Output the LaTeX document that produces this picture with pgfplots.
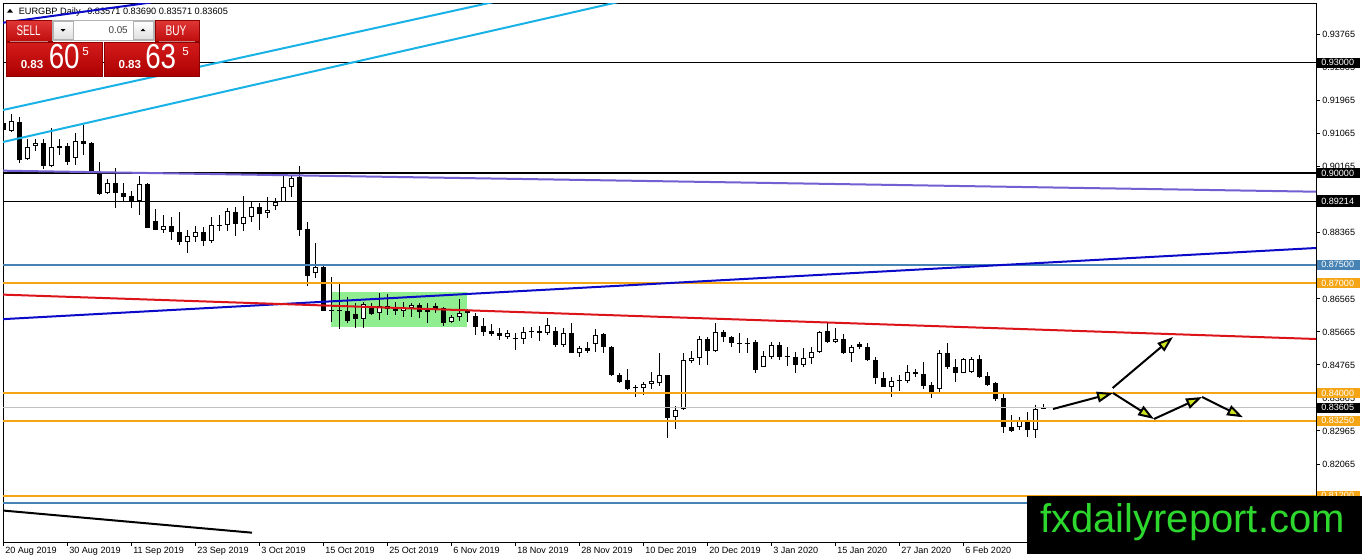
\documentclass[border=0pt]{standalone}
\usepackage{fontspec}
\setmainfont{Liberation Sans}
\usepackage{pgfplots}
\pgfplotsset{compat=1.18}
\usepackage{pgfplotstable}
\usetikzlibrary{arrows.meta}

\definecolor{cyanl}{RGB}{25,178,230}
\definecolor{slate}{RGB}{112,96,210}
\definecolor{mblue}{RGB}{10,10,200}
\definecolor{redl}{RGB}{220,20,25}
\definecolor{orl}{RGB}{245,165,20}
\definecolor{steel}{RGB}{70,130,180}
\definecolor{lgreen}{RGB}{144,238,144}
\definecolor{arrowfill}{RGB}{205,228,30}
\definecolor{wmgreen}{RGB}{45,215,45}
\definecolor{btntop}{RGB}{225,55,55}
\definecolor{btnbot}{RGB}{190,12,12}
\definecolor{boxtop}{RGB}{212,28,28}
\definecolor{boxbot}{RGB}{172,0,0}
\definecolor{btnedge}{RGB}{140,0,0}
\definecolor{curgray}{RGB}{192,192,192}

\newcommand\axfont{\fontsize{6.8}{8}\selectfont}

\pgfplotstableread{
i o h l c
0 0.91359 0.91631 0.91004 0.91168
1 0.91141 0.91604 0.91113 0.91414
2 0.91386 0.91522 0.90269 0.90350
3 0.90378 0.90923 0.90350 0.90705
4 0.90732 0.90923 0.90596 0.90814
5 0.90814 0.90923 0.90105 0.90187
6 0.90187 0.91223 0.90160 0.90705
7 0.90732 0.90923 0.90487 0.90677
8 0.90732 0.90814 0.90214 0.90296
9 0.90405 0.91086 0.90214 0.90868
10 0.90868 0.91304 0.90487 0.90787
11 0.90814 0.90841 0.90051 0.90051
12 0.89996 0.90296 0.89397 0.89424
13 0.89451 0.89833 0.89424 0.89724
14 0.89724 0.90132 0.89042 0.89451
15 0.89451 0.89724 0.89206 0.89342
16 0.89369 0.89506 0.89042 0.89233
17 0.89233 0.89914 0.88852 0.89696
18 0.89696 0.89724 0.88497 0.88497
19 0.88688 0.89015 0.88443 0.88443
20 0.88443 0.88852 0.88361 0.88552
21 0.88552 0.88797 0.88170 0.88388
22 0.88388 0.88933 0.88034 0.88115
23 0.88115 0.88443 0.87816 0.88279
24 0.88252 0.88552 0.88115 0.88388
25 0.88388 0.88525 0.88006 0.88143
26 0.88143 0.88797 0.88088 0.88579
27 0.88552 0.88852 0.88415 0.88579
28 0.88579 0.89042 0.88415 0.88960
29 0.88933 0.89069 0.88279 0.88606
30 0.88606 0.89369 0.88415 0.88797
31 0.88797 0.89206 0.88661 0.89069
32 0.89069 0.89178 0.88443 0.88879
33 0.88906 0.89342 0.88770 0.88988
34 0.89096 0.89315 0.88988 0.89206
35 0.89206 0.89942 0.89206 0.89615
36 0.89615 0.89942 0.89342 0.89860
37 0.89887 0.90187 0.88279 0.88443
38 0.88470 0.88661 0.86916 0.87189
39 0.87270 0.88088 0.87134 0.87434
40 0.87434 0.87461 0.86235 0.86235
41 0.86262 0.87161 0.85935 0.86235
42 0.86262 0.86971 0.85744 0.86235
43 0.86235 0.86616 0.85908 0.85962
44 0.86153 0.86453 0.85771 0.86017
45 0.86017 0.86480 0.85771 0.86426
46 0.86371 0.86453 0.86126 0.86153
47 0.86180 0.86725 0.85989 0.86371
48 0.86371 0.86698 0.86126 0.86289
49 0.86344 0.86480 0.86126 0.86235
50 0.86235 0.86480 0.86071 0.86344
51 0.86317 0.86453 0.86071 0.86398
52 0.86398 0.86453 0.86044 0.86208
53 0.86317 0.86453 0.85908 0.86208
54 0.86371 0.86453 0.86180 0.86289
55 0.86317 0.86344 0.85826 0.85908
56 0.85935 0.86126 0.85908 0.86071
57 0.86071 0.86562 0.85962 0.86180
58 0.86180 0.86289 0.85935 0.86235
59 0.86098 0.86180 0.85581 0.85799
60 0.85826 0.86044 0.85553 0.85662
61 0.85690 0.85880 0.85553 0.85608
62 0.85635 0.85771 0.85444 0.85553
63 0.85526 0.85717 0.85472 0.85635
64 0.85499 0.85635 0.85172 0.85472
65 0.85472 0.85799 0.85335 0.85662
66 0.85662 0.85799 0.85499 0.85690
67 0.85690 0.85826 0.85417 0.85635
68 0.85635 0.86044 0.85581 0.85853
69 0.85690 0.85799 0.85254 0.85308
70 0.85308 0.85771 0.85254 0.85635
71 0.85635 0.85908 0.85090 0.85090
72 0.85090 0.85281 0.84981 0.85226
73 0.85226 0.85390 0.85090 0.85145
74 0.85335 0.85744 0.85117 0.85581
75 0.85608 0.85635 0.85090 0.85254
76 0.85254 0.85281 0.84463 0.84490
77 0.84490 0.84545 0.84272 0.84299
78 0.84354 0.84654 0.84081 0.84109
79 0.84163 0.84218 0.83891 0.84136
80 0.84136 0.84299 0.83945 0.84245
81 0.84245 0.84572 0.84109 0.84327
82 0.84272 0.85090 0.84190 0.84490
83 0.84490 0.84490 0.82773 0.83318
84 0.83345 0.83646 0.83018 0.83536
85 0.83564 0.85090 0.83536 0.84899
86 0.84872 0.85145 0.84817 0.84954
87 0.84954 0.85553 0.84763 0.85472
88 0.85472 0.85526 0.84763 0.85145
89 0.85145 0.85908 0.85117 0.85662
90 0.85662 0.85717 0.85390 0.85526
91 0.85526 0.85553 0.85254 0.85363
92 0.85363 0.85635 0.85090 0.85335
93 0.85363 0.85499 0.85090 0.85335
94 0.85390 0.85444 0.84545 0.84627
95 0.84708 0.85145 0.84708 0.85008
96 0.84981 0.85390 0.84926 0.85308
97 0.85308 0.85390 0.84899 0.84981
98 0.85008 0.85254 0.84736 0.84981
99 0.84981 0.85117 0.84545 0.84763
100 0.84763 0.85226 0.84708 0.84954
101 0.84954 0.85254 0.84790 0.85117
102 0.85117 0.85690 0.85090 0.85662
103 0.85690 0.85908 0.85363 0.85390
104 0.85390 0.85771 0.85363 0.85472
105 0.85472 0.85608 0.85063 0.85090
106 0.85090 0.85308 0.84845 0.85254
107 0.85335 0.85390 0.85199 0.85254
108 0.85254 0.85363 0.84872 0.84899
109 0.84899 0.84981 0.84245 0.84409
110 0.84409 0.84572 0.84163 0.84163
111 0.84163 0.84436 0.83891 0.84327
112 0.84354 0.84490 0.84054 0.84327
113 0.84327 0.84763 0.84272 0.84572
114 0.84572 0.84654 0.84436 0.84518
115 0.84518 0.84845 0.84109 0.84190
116 0.84218 0.84299 0.83864 0.84027
117 0.84109 0.85172 0.84027 0.85090
118 0.85090 0.85363 0.84654 0.84708
119 0.84708 0.84926 0.84299 0.84545
120 0.84545 0.84954 0.84545 0.84926
121 0.84572 0.84981 0.84545 0.84926
122 0.84926 0.85035 0.84409 0.84436
123 0.84463 0.84572 0.84190 0.84218
124 0.84272 0.84299 0.83782 0.83836
125 0.83864 0.83973 0.82909 0.83073
126 0.83073 0.83400 0.82937 0.82964
127 0.83073 0.83345 0.82991 0.83237
128 0.83237 0.83482 0.82800 0.82991
129 0.82991 0.83673 0.82773 0.83564
130 0.83571 0.83690 0.83571 0.83605
}\candles

\begin{document}
\begin{tikzpicture}[x=0.75pt,y=-0.75pt]
\useasboundingbox (0,0) rectangle (1362,554);
\fill[white] (0,0) rectangle (1362,554);

% title
\fill[black] (7,12.6) -- (13,12.6) -- (10,8.8) -- cycle;
\node[anchor=base west, inner sep=0pt, font=\fontsize{6.9}{8}\selectfont] at (18.5,14) {EURGBP Daily};
\node[anchor=base west, inner sep=0pt, font=\fontsize{6.9}{8}\selectfont] at (87,14) {0.83571 0.83690 0.83571 0.83605};

\begin{axis}[
  at={(2.25pt,-406.5pt)}, anchor=south west,
  scale only axis, width=984.75pt, height=404.25pt,
  xmin=0, xmax=164.125, ymin=0.79939, ymax=0.94629,
  axis line style={black, line width=0.75pt},
  tick align=outside, major tick length=3pt,
  tick style={black, line width=0.75pt},
  xtick pos=bottom, ytick pos=right,
  yticklabel pos=right,
  xtick={0,8,...,120},
  xticklabels={20 Aug 2019,30 Aug 2019,11 Sep 2019,23 Sep 2019,3 Oct 2019,15 Oct 2019,25 Oct 2019,6 Nov 2019,18 Nov 2019,28 Nov 2019,10 Dec 2019,20 Dec 2019,3 Jan 2020,15 Jan 2020,27 Jan 2020,6 Feb 2020},
  xticklabel style={font=\axfont, anchor=north west, inner sep=0pt, xshift=1.5pt, yshift=-0.6pt},
  ytick={0.81165,0.82065,0.82965,0.83865,0.84765,0.85665,0.86565,0.87465,0.88365,0.89265,0.90165,0.91065,0.91965,0.92865,0.93765},
  scaled y ticks=false,
  yticklabel style={font=\axfont, anchor=west, inner sep=0pt, xshift=1.5pt,
    /pgf/number format/.cd, fixed, fixed zerofill, precision=5, assume math mode=true},
  no markers,
]
% green zone
\addplot[fill=lgreen, draw=none] coordinates {(41,0.85807) (57.96,0.85807) (57.96,0.86761) (41,0.86761)} -- cycle;

% wicks
\addplot[draw=none, mark=none,
  error bars/.cd, y dir=plus, y explicit, error mark=none,
  error bar style={draw=black, line width=0.75pt}]
  table[x=i, y=l, y error plus expr={\thisrow{h}-\thisrow{l}}, y error minus expr={0}] {\candles};
% bodies (black outline / black fill)
\addplot[draw=none, mark=none,
  error bars/.cd, y dir=plus, y explicit, error mark=none,
  error bar style={draw=black, line width=3.75pt}]
  table[x=i, y expr={min(\thisrow{o},\thisrow{c})}, y error plus expr={abs(\thisrow{c}-\thisrow{o})}, y error minus expr={0}] {\candles};
% bull interiors
\addplot[draw=none, mark=none,
  restrict expr to domain={\thisrow{c}-\thisrow{o}}{0.0006:1},
  error bars/.cd, y dir=plus, y explicit, error mark=none,
  error bar style={draw=white, line width=2.25pt, shorten <=0.75pt, shorten >=0.75pt}]
  table[x=i, y=o, y error plus expr={\thisrow{c}-\thisrow{o}}, y error minus expr={0}] {\candles};

% horizontal levels
\addplot[black, line width=0.75pt] coordinates {(0,0.93) (164.125,0.93)};
\addplot[black, line width=1.5pt] coordinates {(0,0.90) (164.125,0.90)};
\addplot[black, line width=0.75pt] coordinates {(0,0.89214) (164.125,0.89214)};
\addplot[steel, line width=1.5pt] coordinates {(0,0.875) (164.125,0.875)};
\addplot[orl, line width=1.5pt] coordinates {(0,0.87) (164.125,0.87)};
\addplot[orl, line width=1.5pt] coordinates {(0,0.84) (164.125,0.84)};
\addplot[curgray, line width=0.75pt] coordinates {(0,0.83605) (164.125,0.83605)};
\addplot[orl, line width=1.5pt] coordinates {(0,0.8325) (164.125,0.8325)};
\addplot[orl, line width=1.5pt] coordinates {(0,0.812) (164.125,0.812)};
\addplot[steel, line width=1.5pt] coordinates {(0,0.8101) (164.125,0.8101)};

% trend lines
\addplot[cyanl, line width=1.5pt] coordinates {(0,0.91713) (70,0.95073)};
\addplot[cyanl, line width=1.5pt] coordinates {(0,0.90841) (80,0.94809)};
\addplot[slate, line width=1.5pt] coordinates {(0,0.90059) (164.125,0.89486)};
\addplot[mblue, line width=1.5pt] coordinates {(0,0.86013) (164.125,0.87952)};
\addplot[redl, line width=1.5pt] coordinates {(0,0.86681) (164.125,0.85472)};
\addplot[black, line width=1.5pt] coordinates {(0,0.80797) (31.125,0.80193)};
\addplot[mblue, line width=1.5pt] coordinates {(0,0.94092) (18.5,0.94643)};

% projected path arrows
\addplot[black, line width=1.5pt, -{Triangle[length=12pt, width=8pt, fill=arrowfill]}] coordinates {(131.25,0.83564) (138.75,0.83999)};
\addplot[black, line width=1.5pt, -{Triangle[length=12pt, width=8pt, fill=arrowfill]}] coordinates {(138.75,0.83999) (143.875,0.83292)};
\addplot[black, line width=1.5pt, -{Triangle[length=12pt, width=8pt, fill=arrowfill]}] coordinates {(143.875,0.83292) (149.875,0.83891)};
\addplot[black, line width=1.5pt, -{Triangle[length=12pt, width=8pt, fill=arrowfill]}] coordinates {(149.875,0.83891) (155,0.83338)};
\addplot[black, line width=1.5pt, -{Triangle[length=12pt, width=8pt, fill=arrowfill]}] coordinates {(138.7,0.84136) (146.25,0.85526)};
\end{axis}

% price boxes on the right scale
\tikzset{pbox/.style={anchor=west, inner sep=0pt, font=\axfont, text=white}}
\fill[black] (1317,57.6) rectangle (1360,67.6); \node[pbox] at (1321,62.6) {0.93000};
\fill[black] (1317,167.9) rectangle (1360,177.9); \node[pbox] at (1321,172.9) {0.90000};
\fill[black] (1317,195.2) rectangle (1360,206.7); \node[pbox] at (1321,201.7) {0.89214};
\fill[steel] (1317,259.6) rectangle (1360,269.6); \node[pbox] at (1321,264.6) {0.87500};
\fill[orl] (1317,277.9) rectangle (1360,287.9); \node[pbox] at (1321,282.9) {0.87000};
\fill[orl] (1317,388) rectangle (1360,398); \node[pbox] at (1321,393) {0.84000};
\fill[black] (1317,402.5) rectangle (1360,412.5); \node[pbox] at (1321,407.5) {0.83605};
\fill[orl] (1317,415.5) rectangle (1360,425.5); \node[pbox] at (1321,420.5) {0.83250};
\fill[orl] (1317,490.7) rectangle (1360,500.7); \node[pbox] at (1321,495.7) {0.81200};

% SELL / BUY panel
\shade[top color=btntop, bottom color=btnbot, draw=btnedge] (6,20) rectangle (52,41.5);
\shade[top color=btntop, bottom color=btnbot, draw=btnedge] (155,20) rectangle (199,41.5);
\draw[white, opacity=0.5] (10,41.5) -- (48,41.5);
\draw[white, opacity=0.5] (159,41.5) -- (195,41.5);
\node[text=white, inner sep=0pt, font=\fontsize{10.5}{11}\selectfont] at (28.5,30.5) {\scalebox{0.7}[1]{SELL}};
\node[text=white, inner sep=0pt, font=\fontsize{10.5}{11}\selectfont] at (176,30.5) {\scalebox{0.72}[1]{BUY}};
\draw[fill=white, draw=gray!60] (52.5,20) rectangle (154,40);
\shade[top color=white, bottom color=gray!25, draw=gray!60] (53.5,21) rectangle (73,39);
\shade[top color=white, bottom color=gray!25, draw=gray!60] (133,21) rectangle (153,39);
\fill[black] (60.5,29) -- (65.5,29) -- (63,31.5) -- cycle;
\fill[black] (140.5,31) -- (145.5,31) -- (143,28.5) -- cycle;
\node[anchor=east, inner sep=0pt, text=black!75, font=\fontsize{7.4}{8}\selectfont] at (128,30.5) {0.05};
\shade[top color=boxtop, bottom color=boxbot, draw=btnedge] (6,42) rectangle (102,76);
\shade[top color=boxtop, bottom color=boxbot, draw=btnedge] (104,42) rectangle (199,76);
\node[anchor=base west, inner sep=0pt, text=white, font=\fontsize{8.7}{9}\selectfont\bfseries] at (20.5,68.3) {0.83};
\node[anchor=base west, inner sep=0pt, text=white, font=\fontsize{26}{26}\selectfont] at (48.5,68.3) {\scalebox{0.8}[1]{60}};
\node[anchor=base west, inner sep=0pt, text=white, font=\fontsize{8.7}{9}\selectfont] at (82,55) {5};
\node[anchor=base west, inner sep=0pt, text=white, font=\fontsize{8.7}{9}\selectfont\bfseries] at (118.3,68.3) {0.83};
\node[anchor=base west, inner sep=0pt, text=white, font=\fontsize{26}{26}\selectfont] at (145,68.3) {\scalebox{0.8}[1]{63}};
\node[anchor=base west, inner sep=0pt, text=white, font=\fontsize{8.7}{9}\selectfont] at (182,55) {5};

% watermark
\fill[black] (1027,495.5) rectangle (1362,554);
\node[anchor=base, inner sep=0pt, text=wmgreen, font=\fontsize{30}{30}\selectfont] at (1192.5,532) {fxdailyreport.com};
\end{tikzpicture}
\end{document}
